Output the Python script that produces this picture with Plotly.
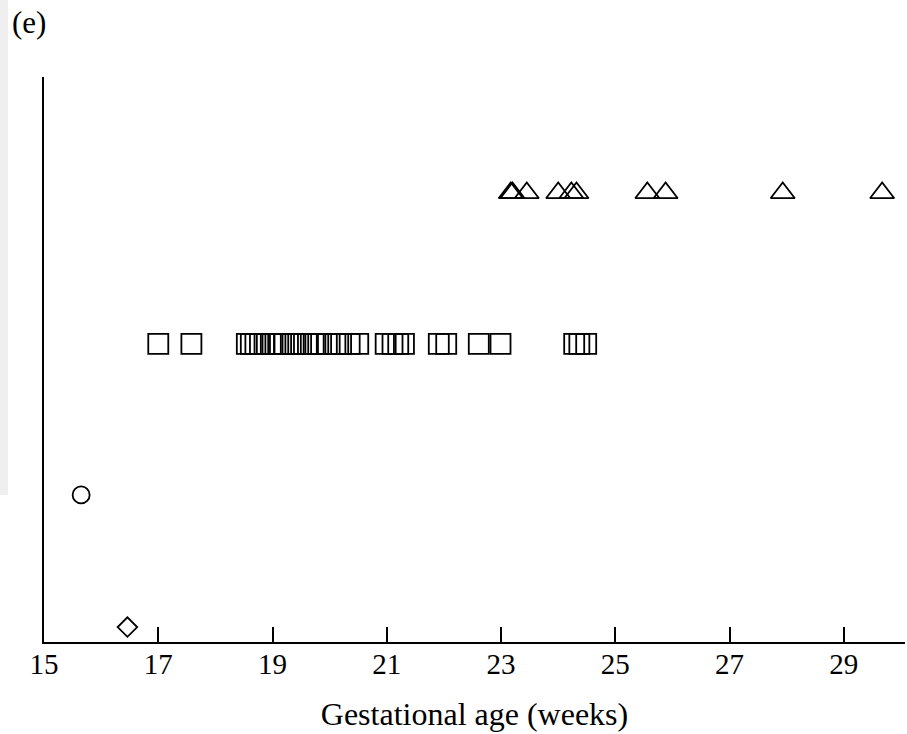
import plotly.graph_objects as go

# Data
diamond_x = [16.46]
diamond_y = [0.125]

circle_x = [15.65]
circle_y = [1.0]

square_x = [17.0, 17.58,
            18.55, 18.62, 18.7, 18.78, 18.86, 19.0, 19.1, 19.2, 19.32, 19.4,
            19.5, 19.62, 19.72, 19.8, 19.95, 20.1, 20.2, 20.35, 20.5,
            20.98, 21.1, 21.2, 21.3,
            21.91, 22.04,
            22.61, 22.99,
            24.28, 24.37, 24.49]
square_y = [2.0] * len(square_x)

triangle_x = [23.17, 23.2, 23.45, 24.0, 24.23, 24.32, 25.56, 25.88, 27.93, 29.67]
triangle_y = [3.0] * len(triangle_x)

tick_vals = [15, 17, 19, 21, 23, 25, 27, 29]
tick_text = ["15", "17", "19", "21", "23", "25", "27", "29"]
x_title = "Gestational age (weeks)"
panel_label = "(e)"

FONT = "Liberation Serif"

fig = go.Figure()

def add(xs, ys, symbol, size):
    fig.add_trace(go.Scatter(
        x=xs, y=ys, mode="markers",
        marker=dict(symbol=symbol, size=size, color="black",
                    line=dict(color="black", width=1.8)),
        showlegend=False, hoverinfo="x"))

add(diamond_x, diamond_y, "diamond-open", 15)
add(circle_x, circle_y, "circle-open", 17)
add(square_x, square_y, "square-open", 20)
add(triangle_x, triangle_y, "triangle-up-open", 21)

fig.update_layout(
    width=907, height=734,
    margin=dict(l=44, r=2, t=77, b=92, autoexpand=False),
    paper_bgcolor="white", plot_bgcolor="white",
    font=dict(family=FONT, color="black", size=26),
    xaxis=dict(range=[15, 30.07], showgrid=False, zeroline=False,
               showline=True, linecolor="black", linewidth=2,
               tickmode="array", tickvals=tick_vals, ticktext=tick_text,
               ticks="inside", ticklen=15, tickwidth=1.5, tickcolor="black",
               tickfont=dict(family=FONT, size=29), automargin=False,
               ticklabelstandoff=-5,
               title=dict(text=x_title, font=dict(family=FONT, size=32), standoff=24)),
    yaxis=dict(range=[0.026, 3.768], showgrid=False, zeroline=False,
               showline=True, linecolor="black", linewidth=2,
               showticklabels=False, ticks="", automargin=False),
    shapes=[dict(type="rect", xref="paper", yref="paper",
                 x0=-44/861, x1=-36/861, y0=(642-495)/565, y1=642/565,
                 fillcolor="#efefef", line=dict(width=0), layer="below")],
    annotations=[dict(text=panel_label, xref="paper", yref="paper",
                      x=-34/861, y=(642-22)/565, xanchor="left", yanchor="middle",
                      showarrow=False, font=dict(family=FONT, size=31))],
)

fig.write_html("out.html", config={"displayModeBar": False},
               post_script="document.body.style.margin='0';")
